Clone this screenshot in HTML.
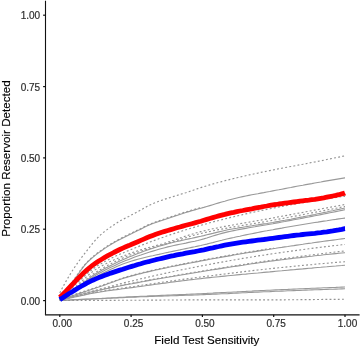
<!DOCTYPE html>
<html><head><meta charset="utf-8"><title>Field Test Sensitivity</title>
<style>
html,body{margin:0;padding:0;background:#fff}
svg{display:block}
.g{fill:none;stroke:#999;stroke-width:1.1}
.dt{stroke:#939393;stroke-width:1.15;stroke-dasharray:1.9 2.25}
.r{fill:none;stroke:#f00;stroke-width:4.8;stroke-linejoin:round}
.b{fill:none;stroke:#00f;stroke-width:4.8;stroke-linejoin:round}
.ax{fill:none;stroke:#111;stroke-width:1.25}
.ay{fill:none;stroke:#111;stroke-width:1.1}
.t{fill:none;stroke:#111;stroke-width:1.2}
text{font-family:"Liberation Sans",sans-serif}
.tl{font-size:10px;fill:#2e2e2e;stroke:#2e2e2e;stroke-width:0.2}
.ti{font-size:11.6px;fill:#000;stroke:#000;stroke-width:0.15}
</style></head><body>
<svg width="360" height="347" viewBox="0 0 360 347">
<rect width="360" height="347" fill="#fff"/>
<path d="M59.8 293.0 L62.8 287.1 L65.8 281.6 L68.8 276.5 L71.8 271.6 L74.8 267.0 L77.8 262.7 L80.8 258.6 L83.8 254.6 L86.8 250.8 L89.8 247.0 L92.8 243.2 L95.8 239.7 L98.8 236.5 L101.8 233.7 L104.8 231.3 L107.8 229.1 L110.8 226.9 L113.8 224.9 L116.8 222.9 L119.8 221.0 L122.8 219.4 L125.8 217.9 L128.8 216.4 L131.8 214.8 L134.8 213.2 L137.8 211.6 L140.8 210.0 L143.8 208.3 L146.8 206.6 L149.8 205.1 L152.8 203.7 L155.8 202.5 L158.8 201.3 L161.8 200.2 L164.8 199.2 L167.8 198.3 L170.8 197.3 L173.8 196.4 L176.8 195.5 L179.8 194.5 L182.8 193.6 L185.8 192.7 L188.8 191.7 L191.8 190.7 L194.8 189.7 L197.8 188.6 L200.8 187.6 L203.8 186.7 L206.8 185.8 L209.8 184.9 L212.8 184.0 L215.8 183.2 L218.8 182.4 L221.8 181.6 L224.8 180.8 L227.8 180.0 L230.8 179.3 L233.8 178.5 L236.8 177.8 L239.8 177.1 L242.8 176.4 L245.8 175.7 L248.8 175.0 L251.8 174.4 L254.8 173.7 L257.8 173.1 L260.8 172.4 L263.8 171.8 L266.8 171.2 L269.8 170.6 L272.8 170.0 L275.8 169.4 L278.8 168.8 L281.8 168.2 L284.8 167.6 L287.8 167.1 L290.8 166.5 L293.8 166.0 L296.8 165.4 L299.8 164.8 L302.8 164.3 L305.8 163.7 L308.8 163.1 L311.8 162.5 L314.8 162.0 L317.8 161.4 L320.8 160.8 L323.8 160.2 L326.8 159.5 L329.8 158.9 L332.8 158.3 L335.8 157.7 L338.8 157.1 L341.8 156.5 L344.8 155.8 L345.0 155.8" class="g dt"/>
<path d="M59.8 299.0 L62.8 295.3 L65.8 291.4 L68.8 287.4 L71.8 283.3 L74.8 279.0 L77.8 274.7 L80.8 270.3 L83.8 266.3 L86.8 262.9 L89.8 260.0 L92.8 257.3 L95.8 254.9 L98.8 252.6 L101.8 250.5 L104.8 248.4 L107.8 246.4 L110.8 244.5 L113.8 242.8 L116.8 241.1 L119.8 239.5 L122.8 237.9 L125.8 236.4 L128.8 234.9 L131.8 233.5 L134.8 232.0 L137.8 230.6 L140.8 229.2 L143.8 227.6 L146.8 226.1 L149.8 224.7 L152.8 223.5 L155.8 222.5 L158.8 221.5 L161.8 220.5 L164.8 219.5 L167.8 218.4 L170.8 217.4 L173.8 216.4 L176.8 215.4 L179.8 214.4 L182.8 213.4 L185.8 212.5 L188.8 211.6 L191.8 210.7 L194.8 209.9 L197.8 209.0 L200.8 208.2 L203.8 207.4 L206.8 206.5 L209.8 205.6 L212.8 204.7 L215.8 203.8 L218.8 202.9 L221.8 202.0 L224.8 201.2 L227.8 200.3 L230.8 199.5 L233.8 198.7 L236.8 198.0 L239.8 197.3 L242.8 196.6 L245.8 196.0 L248.8 195.4 L251.8 194.8 L254.8 194.2 L257.8 193.7 L260.8 193.1 L263.8 192.6 L266.8 192.0 L269.8 191.5 L272.8 190.9 L275.8 190.3 L278.8 189.8 L281.8 189.2 L284.8 188.6 L287.8 188.0 L290.8 187.5 L293.8 186.9 L296.8 186.3 L299.8 185.7 L302.8 185.2 L305.8 184.6 L308.8 184.1 L311.8 183.6 L314.8 183.0 L317.8 182.5 L320.8 182.0 L323.8 181.4 L326.8 180.9 L329.8 180.4 L332.8 179.9 L335.8 179.4 L338.8 178.9 L341.8 178.4 L344.8 177.9 L345.0 177.9" class="g"/>
<path d="M59.8 298.4 L62.8 294.7 L65.8 290.8 L68.8 286.8 L71.8 282.7 L74.8 278.4 L77.8 274.1 L80.8 269.7 L83.8 265.7 L86.8 262.3 L89.8 259.4 L92.8 256.7 L95.8 254.3 L98.8 252.0 L101.8 249.9 L104.8 247.8 L107.8 245.8 L110.8 243.9 L113.8 242.2 L116.8 240.5 L119.8 238.9 L122.8 237.3 L125.8 235.8 L128.8 234.3 L131.8 232.9 L134.8 231.4 L137.8 230.0 L140.8 228.6 L143.8 227.0 L146.8 225.5 L149.8 224.1 L152.8 222.9 L155.8 221.9 L158.8 220.9 L161.8 219.9 L164.8 218.9 L167.8 217.8 L170.8 216.8 L173.8 215.8 L176.8 214.8 L179.8 213.8 L182.8 212.8 L185.8 211.9 L188.8 211.0 L191.8 210.1 L194.8 209.2 L197.8 208.4 L200.8 207.6 L202.4 207.2" class="g dt"/>
<path d="M59.8 299.0 L62.8 296.1 L65.8 293.3 L68.8 290.5 L71.8 287.7 L74.8 285.0 L77.8 282.3 L80.8 279.6 L83.8 276.8 L86.8 274.0 L89.8 271.4 L92.8 269.0 L95.8 266.9 L98.8 265.0 L101.8 263.3 L104.8 261.6 L107.8 260.0 L110.8 258.5 L113.8 257.0 L116.8 255.6 L119.8 254.3 L122.8 253.0 L125.8 251.7 L128.8 250.5 L131.8 249.2 L134.8 248.0 L137.8 246.8 L140.8 245.6 L143.8 244.4 L146.8 243.2 L149.8 242.1 L152.8 241.0 L155.8 239.9 L158.8 238.8 L161.8 237.7 L164.8 236.7 L167.8 235.6 L170.8 234.6 L173.8 233.6 L176.8 232.6 L179.8 231.7 L182.8 230.7 L185.8 229.8 L188.8 228.9 L191.8 228.0 L194.8 227.1 L197.8 226.2 L200.8 225.3 L203.8 224.5 L206.8 223.7 L209.8 222.8 L212.8 222.0 L215.8 221.2 L218.8 220.5 L221.8 219.7 L224.8 218.9 L227.8 218.2 L230.8 217.4 L233.8 216.7 L236.8 216.0 L239.8 215.3 L242.8 214.6 L245.8 213.9 L248.8 213.2 L251.8 212.5 L254.8 211.9 L257.8 211.2 L260.8 210.6 L263.8 210.0 L266.8 209.4 L269.8 208.8 L272.8 208.2 L275.8 207.6 L278.8 207.0 L281.8 206.4 L284.8 205.9 L287.8 205.3 L290.8 204.8 L293.8 204.2 L296.8 203.7 L299.8 203.2 L302.8 202.7 L305.8 202.2 L308.8 201.6 L311.8 201.2 L314.8 200.7 L317.8 200.2 L320.8 199.7 L323.8 199.3 L326.8 198.8 L329.8 198.4 L332.8 197.9 L335.8 197.5 L338.8 197.1 L341.8 196.7 L344.8 196.3 L345.0 196.3" class="g dt"/>
<path d="M59.8 299.5 L62.8 297.1 L65.8 294.6 L68.8 292.2 L71.8 289.7 L74.8 287.2 L77.8 284.7 L80.8 282.1 L83.8 279.3 L86.8 276.5 L89.8 273.9 L92.8 271.5 L95.8 269.4 L98.8 267.6 L101.8 265.9 L104.8 264.3 L107.8 262.8 L110.8 261.3 L113.8 260.0 L116.8 258.7 L119.8 257.4 L122.8 256.2 L125.8 255.1 L128.8 253.9 L131.8 252.8 L134.8 251.8 L137.8 250.8 L140.8 249.9 L143.8 249.0 L146.8 248.2 L149.8 247.3 L152.8 246.5 L155.8 245.7 L158.8 244.8 L161.8 244.0 L164.8 243.1 L167.8 242.1 L170.8 241.2 L173.8 240.2 L176.8 239.1 L179.8 238.1 L182.8 237.1 L185.8 236.1 L188.8 235.1 L191.8 234.2 L194.8 233.3 L197.8 232.4 L200.8 231.6 L203.8 230.9 L206.8 230.2 L209.8 229.5 L212.8 228.8 L215.8 228.2 L218.8 227.6 L221.8 227.0 L224.8 226.4 L227.8 225.9 L230.8 225.3 L233.8 224.8 L236.8 224.2 L239.8 223.7 L242.8 223.2 L245.8 222.7 L248.8 222.2 L251.8 221.7 L254.8 221.1 L257.8 220.6 L260.8 220.1 L263.8 219.6 L266.8 219.1 L269.8 218.5 L272.8 218.0 L275.8 217.4 L278.8 216.8 L281.8 216.3 L284.8 215.7 L287.8 215.2 L290.8 214.6 L293.8 214.0 L296.8 213.5 L299.8 212.9 L302.8 212.4 L305.8 211.8 L308.8 211.2 L311.8 210.7 L314.8 210.1 L317.8 209.6 L320.8 209.0 L323.8 208.4 L326.8 207.9 L329.8 207.3 L332.8 206.8 L335.8 206.2 L338.8 205.7 L341.8 205.1 L344.8 204.5 L345.0 204.5" class="g dt"/>
<path d="M59.8 299.5 L62.8 297.3 L65.8 295.1 L68.8 292.8 L71.8 290.6 L74.8 288.4 L77.8 286.1 L80.8 283.7 L83.8 281.3 L86.8 278.9 L89.8 276.5 L92.8 274.3 L95.8 272.3 L98.8 270.5 L101.8 268.7 L104.8 267.0 L107.8 265.3 L110.8 263.8 L113.8 262.2 L116.8 260.8 L119.8 259.3 L122.8 258.0 L125.8 256.7 L128.8 255.5 L131.8 254.3 L134.8 253.2 L137.8 252.2 L140.8 251.2 L143.8 250.3 L146.8 249.4 L149.8 248.6 L152.8 247.7 L155.8 246.9 L158.8 246.0 L161.8 245.1 L164.8 244.3 L167.8 243.3 L170.8 242.4 L173.8 241.5 L176.8 240.5 L179.8 239.6 L182.8 238.6 L185.8 237.7 L188.8 236.8 L191.8 235.9 L194.8 235.0 L197.8 234.2 L200.8 233.5 L203.8 232.8 L206.8 232.1 L209.8 231.5 L212.8 230.8 L215.8 230.2 L218.8 229.6 L221.8 229.1 L224.8 228.5 L227.8 228.0 L230.8 227.4 L233.8 226.9 L236.8 226.4 L239.8 225.9 L242.8 225.4 L245.8 224.9 L248.8 224.4 L251.8 223.9 L254.8 223.4 L257.8 222.9 L260.8 222.4 L263.8 221.9 L266.8 221.3 L269.8 220.8 L272.8 220.3 L275.8 219.7 L278.8 219.1 L281.8 218.6 L284.8 218.0 L287.8 217.5 L290.8 216.9 L293.8 216.3 L296.8 215.8 L299.8 215.2 L302.8 214.6 L305.8 214.0 L308.8 213.5 L311.8 212.9 L314.8 212.3 L317.8 211.8 L320.8 211.2 L323.8 210.6 L326.8 210.0 L329.8 209.4 L332.8 208.9 L335.8 208.3 L338.8 207.7 L341.8 207.1 L344.8 206.5 L345.0 206.5" class="g dt"/>
<path d="M59.8 299.8 L62.8 297.8 L65.8 295.8 L68.8 293.7 L71.8 291.6 L74.8 289.5 L77.8 287.4 L80.8 285.1 L83.8 282.7 L86.8 280.3 L89.8 278.0 L92.8 275.8 L95.8 273.8 L98.8 272.0 L101.8 270.3 L104.8 268.6 L107.8 267.0 L110.8 265.4 L113.8 263.9 L116.8 262.5 L119.8 261.1 L122.8 259.7 L125.8 258.4 L128.8 257.1 L131.8 255.9 L134.8 254.7 L137.8 253.5 L140.8 252.4 L143.8 251.3 L146.8 250.2 L149.8 249.2 L152.8 248.2 L155.8 247.2 L158.8 246.3 L161.8 245.4 L164.8 244.6 L167.8 243.7 L170.8 243.0 L173.8 242.2 L176.8 241.5 L179.8 240.9 L182.8 240.2 L185.8 239.5 L188.8 238.9 L191.8 238.3 L194.8 237.6 L197.8 236.9 L200.8 236.3 L203.8 235.6 L206.8 234.8 L209.8 234.1 L212.8 233.4 L215.8 232.6 L218.8 231.9 L221.8 231.2 L224.8 230.5 L227.8 229.8 L230.8 229.2 L233.8 228.7 L236.8 228.2 L239.8 227.6 L242.8 227.2 L245.8 226.7 L248.8 226.2 L251.8 225.8 L254.8 225.3 L257.8 224.9 L260.8 224.4 L263.8 223.9 L266.8 223.5 L269.8 223.0 L272.8 222.5 L275.8 221.9 L278.8 221.4 L281.8 220.8 L284.8 220.3 L287.8 219.7 L290.8 219.2 L293.8 218.6 L296.8 218.0 L299.8 217.4 L302.8 216.9 L305.8 216.3 L308.8 215.7 L311.8 215.1 L314.8 214.5 L317.8 213.8 L320.8 213.2 L323.8 212.6 L326.8 212.0 L329.8 211.3 L332.8 210.7 L335.8 210.0 L338.8 209.4 L341.8 208.7 L344.8 208.0 L345.0 208.0" class="g"/>
<path d="M59.8 299.8 L62.8 297.9 L65.8 296.1 L68.8 294.1 L71.8 292.2 L74.8 290.2 L77.8 288.2 L80.8 286.0 L83.8 283.8 L86.8 281.5 L89.8 279.3 L92.8 277.2 L95.8 275.3 L98.8 273.6 L101.8 271.9 L104.8 270.3 L107.8 268.8 L110.8 267.3 L113.8 265.9 L116.8 264.5 L119.8 263.1 L122.8 261.8 L125.8 260.6 L128.8 259.4 L131.8 258.2 L134.8 257.1 L137.8 256.0 L140.8 255.0 L143.8 253.9 L146.8 252.9 L149.8 252.0 L152.8 251.1 L155.8 250.2 L158.8 249.3 L161.8 248.5 L164.8 247.7 L167.8 246.9 L170.8 246.2 L173.8 245.5 L176.8 244.9 L179.8 244.3 L182.8 243.7 L185.8 243.1 L188.8 242.4 L191.8 241.8 L194.8 241.2 L197.8 240.5 L200.8 239.7 L203.8 238.9 L206.8 238.0 L209.8 237.0 L212.8 236.0 L215.8 235.1 L218.8 234.2 L221.8 233.4 L224.8 232.6 L227.8 231.9 L230.8 231.2 L233.8 230.6 L236.8 230.0 L239.8 229.4 L242.8 228.9 L245.8 228.4 L248.8 227.8 L251.8 227.3 L254.8 226.8 L257.8 226.2 L260.8 225.7 L263.8 225.2 L266.8 224.7 L269.8 224.2 L272.8 223.7 L275.8 223.1 L278.8 222.6 L281.8 222.0 L284.8 221.5 L287.8 220.9 L290.8 220.4 L293.8 219.8 L296.8 219.2 L299.8 218.7 L302.8 218.1 L305.8 217.5 L308.8 217.0 L311.8 216.4 L314.8 215.8 L317.8 215.2 L320.8 214.6 L323.8 214.0 L326.8 213.4 L329.8 212.8 L332.8 212.2 L335.8 211.6 L338.8 211.0 L341.8 210.4 L344.8 209.7 L345.0 209.7" class="g"/>
<path d="M59.8 299.8 L62.8 298.1 L65.8 296.4 L68.8 294.6 L71.8 292.8 L74.8 291.0 L77.8 289.1 L80.8 287.1 L83.8 285.0 L86.8 282.8 L89.8 280.8 L92.8 278.8 L95.8 277.0 L98.8 275.4 L101.8 273.8 L104.8 272.3 L107.8 270.8 L110.8 269.3 L113.8 267.9 L116.8 266.6 L119.8 265.3 L122.8 264.1 L125.8 263.0 L128.8 261.9 L131.8 261.0 L134.8 260.1 L137.8 259.3 L140.8 258.5 L143.8 257.7 L146.8 257.0 L149.8 256.3 L152.8 255.7 L155.8 255.0 L158.8 254.4 L161.8 253.7 L164.8 253.0 L167.8 252.4 L170.8 251.7 L173.8 251.1 L176.8 250.5 L179.8 249.9 L182.8 249.2 L185.8 248.6 L188.8 248.0 L191.8 247.4 L194.8 246.8 L197.8 246.1 L200.8 245.5 L203.8 244.8 L206.8 244.1 L209.8 243.3 L212.8 242.6 L215.8 241.8 L218.8 241.0 L221.8 240.3 L224.8 239.5 L227.8 238.8 L230.8 238.1 L233.8 237.5 L236.8 236.8 L239.8 236.2 L242.8 235.5 L245.8 234.9 L248.8 234.3 L251.8 233.7 L254.8 233.1 L257.8 232.5 L260.8 231.9 L263.8 231.3 L266.8 230.8 L269.8 230.2 L272.8 229.7 L275.8 229.1 L278.8 228.6 L281.8 228.1 L284.8 227.5 L287.8 227.0 L290.8 226.5 L293.8 226.0 L296.8 225.5 L299.8 225.0 L302.8 224.5 L305.8 224.0 L308.8 223.5 L311.8 223.0 L314.8 222.5 L317.8 222.1 L320.8 221.6 L323.8 221.1 L326.8 220.7 L329.8 220.2 L332.8 219.8 L335.8 219.4 L338.8 218.9 L341.8 218.5 L344.8 218.1 L345.0 218.1" class="g"/>
<path d="M59.8 300.0 L62.8 299.0 L65.8 297.9 L68.8 296.9 L71.8 295.9 L74.8 294.9 L77.8 293.9 L80.8 292.9 L83.8 291.9 L86.8 291.0 L89.8 290.0 L92.8 289.0 L95.8 288.0 L98.8 287.0 L101.8 286.0 L104.8 284.9 L107.8 283.8 L110.8 282.7 L113.8 281.7 L116.8 280.6 L119.8 279.6 L122.8 278.6 L125.8 277.6 L128.8 276.7 L131.8 275.9 L134.8 275.1 L137.8 274.3 L140.8 273.6 L143.8 272.8 L146.8 272.1 L149.8 271.4 L152.8 270.7 L155.8 270.0 L158.8 269.4 L161.8 268.7 L164.8 268.1 L167.8 267.5 L170.8 266.8 L173.8 266.2 L176.8 265.6 L179.8 265.0 L182.8 264.4 L185.8 263.9 L188.8 263.3 L191.8 262.7 L194.8 262.1 L197.8 261.6 L200.8 261.0 L203.8 260.4 L206.8 259.9 L209.8 259.3 L212.8 258.7 L215.8 258.2 L218.8 257.7 L221.8 257.1 L224.8 256.6 L227.8 256.1 L230.8 255.6 L233.8 255.0 L236.8 254.5 L239.8 254.0 L242.8 253.5 L245.8 253.0 L248.8 252.5 L251.8 252.1 L254.8 251.6 L257.8 251.1 L260.8 250.6 L263.8 250.1 L266.8 249.7 L269.8 249.2 L272.8 248.7 L275.8 248.3 L278.8 247.8 L281.8 247.4 L284.8 246.9 L287.8 246.5 L290.8 246.0 L293.8 245.6 L296.8 245.1 L299.8 244.7 L302.8 244.3 L305.8 243.8 L308.8 243.4 L311.8 243.0 L314.8 242.5 L317.8 242.1 L320.8 241.7 L323.8 241.3 L326.8 240.9 L329.8 240.5 L332.8 240.1 L335.8 239.7 L338.8 239.3 L341.8 238.9 L344.8 238.5 L345.0 238.5" class="g"/>
<path d="M59.8 299.5 L62.8 298.5 L65.8 297.4 L68.8 296.4 L71.8 295.4 L74.8 294.4 L77.8 293.4 L80.8 292.4 L83.8 291.4 L86.8 290.5 L89.8 289.5 L92.8 288.5 L95.8 287.5 L98.8 286.5 L101.8 285.5 L104.8 284.4 L107.8 283.3 L110.8 282.2 L113.8 281.2 L116.8 280.1 L119.8 279.1 L122.8 278.1 L125.8 277.1 L128.8 276.2 L131.8 275.4 L134.8 274.6 L137.8 273.8 L140.8 273.1 L143.8 272.3 L146.8 271.6 L149.8 270.9 L152.8 270.2 L155.8 269.5 L158.8 268.9 L161.8 268.2 L164.8 267.6 L167.8 267.0 L170.8 266.3 L173.8 265.7 L176.8 265.1 L179.8 264.5 L182.8 263.9 L185.8 263.4 L188.8 262.8 L191.8 262.2 L194.8 261.6 L197.8 261.1 L200.8 260.5 L203.8 259.9 L206.8 259.3 L209.8 258.8 L212.8 258.2 L215.8 257.7 L218.8 257.1 L221.8 256.6 L224.8 256.1 L227.8 255.5 L230.8 255.0 L233.8 254.5 L236.8 254.0 L239.8 253.5 L242.8 252.9 L245.8 252.4 L248.8 252.0 L251.8 251.5 L254.8 251.0 L257.8 250.5 L260.8 250.0 L263.8 249.6 L266.8 249.1 L269.8 248.7 L272.8 248.2 L273.7 248.1" class="g dt"/>
<path d="M59.8 300.0 L62.8 299.1 L65.8 298.2 L68.8 297.3 L71.8 296.5 L74.8 295.7 L77.8 294.8 L80.8 294.0 L83.8 293.3 L86.8 292.5 L89.8 291.7 L92.8 291.0 L95.8 290.2 L98.8 289.4 L101.8 288.6 L104.8 287.9 L107.8 287.1 L110.8 286.3 L113.8 285.5 L116.8 284.7 L119.8 283.9 L122.8 283.2 L125.8 282.4 L128.8 281.7 L131.8 281.0 L134.8 280.3 L137.8 279.6 L140.8 278.8 L143.8 278.2 L146.8 277.5 L149.8 276.8 L152.8 276.1 L155.8 275.4 L158.8 274.7 L161.8 274.1 L164.8 273.4 L167.8 272.8 L170.8 272.1 L173.8 271.5 L176.8 270.8 L179.8 270.2 L182.8 269.6 L185.8 269.0 L188.8 268.4 L191.8 267.8 L194.8 267.2 L197.8 266.6 L200.8 266.0 L203.8 265.4 L206.8 264.9 L209.8 264.3 L212.8 263.7 L215.8 263.2 L218.8 262.6 L221.8 262.1 L224.8 261.6 L227.8 261.0 L230.8 260.5 L233.8 260.0 L236.8 259.5 L239.8 259.0 L242.8 258.4 L245.8 258.0 L248.8 257.5 L251.8 257.0 L254.8 256.5 L257.8 256.0 L260.8 255.5 L263.8 255.1 L266.8 254.6 L269.8 254.2 L272.8 253.7 L275.8 253.3 L278.8 252.9 L281.8 252.4 L284.8 252.0 L287.8 251.6 L290.8 251.2 L293.8 250.8 L296.8 250.4 L299.8 250.0 L302.8 249.6 L305.8 249.2 L308.8 248.8 L311.8 248.4 L314.8 248.0 L317.8 247.6 L320.8 247.3 L323.8 246.9 L326.8 246.5 L329.8 246.2 L332.8 245.8 L335.8 245.5 L338.8 245.2 L341.8 244.8 L344.8 244.5 L345.0 244.5" class="g dt"/>
<path d="M59.8 300.0 L62.8 299.2 L65.8 298.4 L68.8 297.6 L71.8 296.8 L74.8 296.0 L77.8 295.2 L80.8 294.5 L83.8 293.7 L86.8 292.9 L89.8 292.2 L92.8 291.4 L95.8 290.7 L98.8 290.0 L101.8 289.4 L104.8 288.7 L107.8 288.1 L110.8 287.4 L113.8 286.8 L116.8 286.2 L119.8 285.6 L122.8 285.0 L125.8 284.4 L128.8 283.8 L131.8 283.3 L134.8 282.7 L137.8 282.1 L140.8 281.6 L143.8 281.0 L146.8 280.5 L149.8 279.9 L152.8 279.4 L155.8 278.9 L158.8 278.3 L161.8 277.8 L164.8 277.3 L167.8 276.8 L170.8 276.3 L173.8 275.7 L176.8 275.2 L179.8 274.7 L182.8 274.2 L185.8 273.7 L188.8 273.2 L191.8 272.7 L194.8 272.2 L197.8 271.8 L200.8 271.3 L203.8 270.8 L206.8 270.3 L209.8 269.8 L212.8 269.3 L215.8 268.8 L218.8 268.3 L221.8 267.9 L224.8 267.4 L227.8 266.9 L230.8 266.4 L233.8 266.0 L236.8 265.5 L239.8 265.0 L242.8 264.6 L245.8 264.1 L248.8 263.6 L251.8 263.2 L254.8 262.7 L257.8 262.3 L260.8 261.8 L263.8 261.4 L266.8 261.0 L269.8 260.5 L272.8 260.1 L275.8 259.7 L278.8 259.3 L281.8 258.9 L284.8 258.5 L287.8 258.1 L290.8 257.7 L293.8 257.3 L296.8 256.9 L299.8 256.5 L302.8 256.1 L305.8 255.7 L308.8 255.3 L311.8 254.9 L314.8 254.5 L317.8 254.2 L320.8 253.8 L323.8 253.4 L326.8 253.0 L329.8 252.7 L332.8 252.3 L335.8 252.0 L338.8 251.6 L341.8 251.3 L344.8 250.9 L345.0 250.9" class="g dt"/>
<path d="M59.8 300.0 L62.8 299.2 L65.8 298.4 L68.8 297.6 L71.8 296.9 L74.8 296.1 L77.8 295.3 L80.8 294.6 L83.8 293.8 L86.8 293.1 L89.8 292.3 L92.8 291.6 L95.8 290.9 L98.8 290.3 L101.8 289.6 L104.8 289.0 L107.8 288.4 L110.8 287.7 L113.8 287.1 L116.8 286.5 L119.8 286.0 L122.8 285.4 L125.8 284.8 L128.8 284.2 L131.8 283.7 L134.8 283.1 L137.8 282.6 L140.8 282.0 L143.8 281.5 L146.8 280.9 L149.8 280.4 L152.8 279.8 L155.8 279.3 L158.8 278.8 L161.8 278.3 L164.8 277.7 L167.8 277.2 L170.8 276.7 L173.8 276.2 L176.8 275.7 L179.8 275.2 L182.8 274.7 L185.8 274.2 L188.8 273.7 L191.8 273.2 L194.8 272.7 L197.8 272.2 L200.8 271.8 L203.8 271.3 L206.8 270.8 L209.8 270.3 L212.8 269.8 L215.8 269.4 L218.8 268.9 L221.8 268.4 L224.8 267.9 L227.8 267.5 L230.8 267.0 L233.8 266.5 L236.8 266.1 L239.8 265.6 L242.8 265.2 L245.8 264.7 L248.8 264.3 L251.8 263.8 L254.8 263.4 L257.8 263.0 L260.8 262.5 L263.8 262.1 L266.8 261.7 L269.8 261.3 L272.8 260.9 L275.8 260.5 L278.8 260.1 L281.8 259.8 L284.8 259.4 L287.8 259.0 L290.8 258.6 L293.8 258.3 L296.8 257.9 L299.8 257.6 L302.8 257.2 L305.8 256.9 L308.8 256.5 L311.8 256.2 L314.8 255.8 L317.8 255.5 L320.8 255.2 L323.8 254.8 L326.8 254.5 L329.8 254.2 L332.8 253.9 L335.8 253.6 L338.8 253.3 L341.8 253.0 L344.8 252.7 L345.0 252.7" class="g"/>
<path d="M59.8 300.2 L62.8 299.5 L65.8 298.8 L68.8 298.2 L71.8 297.5 L74.8 296.8 L77.8 296.2 L80.8 295.5 L83.8 294.8 L86.8 294.1 L89.8 293.4 L92.8 292.8 L95.8 292.2 L98.8 291.7 L101.8 291.2 L104.8 290.7 L107.8 290.2 L110.8 289.8 L113.8 289.3 L116.8 288.9 L119.8 288.4 L122.8 288.0 L125.8 287.6 L128.8 287.1 L131.8 286.7 L134.8 286.3 L137.8 285.8 L140.8 285.4 L143.8 284.9 L146.8 284.5 L149.8 284.1 L152.8 283.6 L155.8 283.2 L158.8 282.8 L161.8 282.3 L164.8 281.9 L167.8 281.5 L170.8 281.1 L173.8 280.6 L176.8 280.2 L179.8 279.8 L182.8 279.4 L185.8 279.0 L188.8 278.6 L191.8 278.2 L194.8 277.8 L197.8 277.4 L200.8 277.0 L203.8 276.6 L206.8 276.2 L209.8 275.9 L212.8 275.5 L215.8 275.1 L218.8 274.7 L221.8 274.3 L224.8 274.0 L227.8 273.6 L230.8 273.2 L233.8 272.8 L236.8 272.5 L239.8 272.1 L242.8 271.8 L245.8 271.4 L248.8 271.1 L251.8 270.7 L254.8 270.4 L257.8 270.0 L260.8 269.7 L263.8 269.4 L266.8 269.0 L269.8 268.7 L272.8 268.4 L275.8 268.1 L278.8 267.8 L281.8 267.5 L284.8 267.2 L287.8 266.9 L290.8 266.6 L293.8 266.3 L296.8 266.0 L299.8 265.7 L302.8 265.4 L305.8 265.1 L308.8 264.8 L311.8 264.6 L314.8 264.3 L317.8 264.0 L320.8 263.7 L323.8 263.5 L326.8 263.2 L329.8 263.0 L332.8 262.7 L335.8 262.4 L338.8 262.2 L341.8 262.0 L344.8 261.7 L345.0 261.7" class="g dt"/>
<path d="M59.8 300.2 L62.8 299.6 L65.8 298.9 L68.8 298.3 L71.8 297.6 L74.8 297.0 L77.8 296.4 L80.8 295.7 L83.8 295.1 L86.8 294.4 L89.8 293.8 L92.8 293.2 L95.8 292.6 L98.8 292.2 L101.8 291.7 L104.8 291.2 L107.8 290.8 L110.8 290.4 L113.8 290.0 L116.8 289.6 L119.8 289.2 L122.8 288.8 L125.8 288.4 L128.8 288.0 L131.8 287.6 L134.8 287.2 L137.8 286.8 L140.8 286.4 L143.8 286.0 L146.8 285.5 L149.8 285.1 L152.8 284.7 L155.8 284.3 L158.8 283.9 L161.8 283.5 L164.8 283.1 L167.8 282.7 L170.8 282.3 L173.8 281.9 L176.8 281.5 L179.8 281.1 L182.8 280.7 L185.8 280.4 L188.8 280.0 L191.8 279.6 L194.8 279.3 L197.8 278.9 L200.8 278.6 L203.8 278.2 L206.8 277.9 L209.8 277.6 L212.8 277.3 L215.8 277.0 L218.8 276.7 L221.8 276.4 L224.8 276.1 L227.8 275.8 L230.8 275.5 L233.8 275.2 L236.8 274.9 L239.8 274.6 L242.8 274.3 L245.8 274.1 L248.8 273.8 L251.8 273.5 L254.8 273.2 L257.8 273.0 L260.8 272.7 L263.8 272.4 L266.8 272.1 L269.8 271.9 L272.8 271.6 L275.8 271.3 L278.8 271.0 L281.8 270.8 L284.8 270.5 L287.8 270.2 L290.8 269.9 L293.8 269.7 L296.8 269.4 L299.8 269.1 L302.8 268.9 L305.8 268.6 L308.8 268.3 L311.8 268.1 L314.8 267.8 L317.8 267.5 L320.8 267.3 L323.8 267.0 L326.8 266.8 L329.8 266.5 L332.8 266.2 L335.8 266.0 L338.8 265.7 L341.8 265.5 L344.8 265.2 L345.0 265.2" class="g"/>
<path d="M59.8 300.4 L62.8 300.3 L65.8 300.1 L68.8 300.0 L71.8 299.9 L74.8 299.7 L77.8 299.6 L80.8 299.4 L83.8 299.3 L86.8 299.1 L89.8 299.0 L92.8 298.8 L95.8 298.7 L98.8 298.5 L101.8 298.4 L104.8 298.2 L107.8 298.0 L110.8 297.9 L113.8 297.7 L116.8 297.6 L119.8 297.4 L122.8 297.2 L125.8 297.1 L128.8 296.9 L131.8 296.8 L134.8 296.6 L137.8 296.5 L140.8 296.3 L143.8 296.2 L146.8 296.1 L149.8 295.9 L152.8 295.8 L155.8 295.7 L158.8 295.5 L161.8 295.4 L164.8 295.3 L167.8 295.1 L170.8 295.0 L173.8 294.9 L176.8 294.8 L179.8 294.6 L182.8 294.5 L185.8 294.4 L188.8 294.2 L191.8 294.1 L194.8 294.0 L197.8 293.8 L200.8 293.7 L203.8 293.5 L206.8 293.4 L209.8 293.2 L212.8 293.1 L215.8 292.9 L218.8 292.8 L221.8 292.6 L224.8 292.5 L227.8 292.3 L230.8 292.2 L233.8 292.0 L236.8 291.9 L239.8 291.7 L242.8 291.5 L245.8 291.4 L248.8 291.2 L251.8 291.1 L254.8 290.9 L257.8 290.8 L260.8 290.6 L263.8 290.5 L266.8 290.3 L269.8 290.2 L272.8 290.0 L275.8 289.9 L278.8 289.8 L281.8 289.6 L284.8 289.5 L287.8 289.4 L290.8 289.2 L293.8 289.1 L296.8 289.0 L299.8 288.8 L302.8 288.7 L305.8 288.6 L308.8 288.5 L311.8 288.3 L314.8 288.2 L317.8 288.1 L320.8 288.0 L323.8 287.8 L326.8 287.7 L329.8 287.6 L332.8 287.5 L335.8 287.4 L338.8 287.2 L341.8 287.1 L344.8 287.0 L345.0 287.0" class="g"/>
<path d="M59.8 300.4 L62.8 300.3 L65.8 300.2 L68.8 300.0 L71.8 299.9 L74.8 299.8 L77.8 299.7 L80.8 299.5 L83.8 299.4 L86.8 299.3 L89.8 299.2 L92.8 299.0 L95.8 298.9 L98.8 298.7 L101.8 298.6 L104.8 298.5 L107.8 298.3 L110.8 298.2 L113.8 298.0 L116.8 297.9 L119.8 297.7 L122.8 297.6 L125.8 297.4 L128.8 297.3 L131.8 297.2 L134.8 297.1 L137.8 296.9 L140.8 296.8 L143.8 296.7 L146.8 296.6 L149.8 296.5 L152.8 296.4 L155.8 296.3 L158.8 296.2 L161.8 296.1 L164.8 296.0 L167.8 295.9 L170.8 295.8 L173.8 295.7 L176.8 295.6 L179.8 295.5 L182.8 295.4 L185.8 295.3 L188.8 295.2 L191.8 295.1 L194.8 295.0 L197.8 294.9 L200.8 294.8 L203.8 294.6 L206.8 294.5 L209.8 294.4 L212.8 294.3 L215.8 294.1 L218.8 294.0 L221.8 293.8 L224.8 293.7 L227.8 293.6 L230.8 293.4 L233.8 293.3 L236.8 293.1 L239.8 293.0 L242.8 292.8 L245.8 292.7 L248.8 292.5 L251.8 292.4 L254.8 292.2 L257.8 292.1 L260.8 292.0 L263.8 291.8 L266.8 291.7 L269.8 291.6 L272.8 291.4 L275.8 291.3 L278.8 291.2 L281.8 291.1 L284.8 291.0 L287.8 290.8 L290.8 290.7 L293.8 290.6 L296.8 290.5 L299.8 290.4 L302.8 290.3 L305.8 290.1 L308.8 290.0 L311.8 289.9 L314.8 289.8 L317.8 289.7 L320.8 289.6 L323.8 289.5 L326.8 289.4 L329.8 289.3 L332.8 289.2 L335.8 289.1 L338.8 289.0 L341.8 288.9 L344.8 288.8 L345.0 288.8" class="g"/>
<path d="M59.8 300.5 L62.8 300.5 L65.8 300.5 L68.8 300.5 L71.8 300.4 L74.8 300.4 L77.8 300.4 L80.8 300.4 L83.8 300.4 L86.8 300.4 L89.8 300.4 L92.8 300.4 L95.8 300.3 L98.8 300.3 L101.8 300.3 L104.8 300.3 L107.8 300.3 L110.8 300.3 L113.8 300.3 L116.8 300.3 L119.8 300.2 L122.8 300.2 L125.8 300.2 L128.8 300.2 L131.8 300.2 L134.8 300.2 L137.8 300.2 L140.8 300.2 L143.8 300.1 L146.8 300.1 L149.8 300.1 L152.8 300.1 L155.8 300.1 L158.8 300.1 L161.8 300.1 L164.8 300.0 L167.8 300.0 L170.8 300.0 L173.8 300.0 L176.8 300.0 L179.8 300.0 L182.8 300.0 L185.8 299.9 L188.8 299.9 L191.8 299.9 L194.8 299.9 L197.8 299.9 L200.8 299.9 L203.8 299.9 L206.8 299.9 L209.8 299.9 L212.8 299.9 L215.8 299.9 L218.8 299.9 L221.8 299.9 L224.8 299.9 L227.8 299.9 L230.8 299.9 L233.8 299.9 L236.8 299.9 L239.8 299.9 L242.8 299.8 L245.8 299.8 L248.8 299.8 L251.8 299.8 L254.8 299.8 L257.8 299.8 L260.8 299.8 L263.8 299.8 L266.8 299.8 L269.8 299.8 L272.8 299.8 L275.8 299.8 L278.8 299.8 L281.8 299.8 L284.8 299.8 L287.8 299.7 L290.8 299.7 L293.8 299.7 L296.8 299.7 L299.8 299.7 L302.8 299.6 L305.8 299.6 L308.8 299.6 L311.8 299.6 L314.8 299.5 L317.8 299.5 L320.8 299.5 L323.8 299.4 L326.8 299.4 L329.8 299.4 L332.8 299.3 L335.8 299.3 L338.8 299.3 L341.8 299.2 L344.8 299.2 L345.0 299.2" class="g dt"/>
<path d="M59.8 297.5 L62.8 294.4 L65.8 291.3 L68.8 288.1 L71.8 285.0 L74.8 281.9 L77.8 278.7 L80.8 275.7 L83.8 272.8 L86.8 270.1 L89.8 267.5 L92.8 265.1 L95.8 263.0 L98.8 261.0 L101.8 259.2 L104.8 257.4 L107.8 255.7 L110.8 254.1 L113.8 252.5 L116.8 251.0 L119.8 249.5 L122.8 248.1 L125.8 246.8 L128.8 245.6 L131.8 244.3 L134.8 243.0 L137.8 241.7 L140.8 240.4 L143.8 239.1 L146.8 237.8 L149.8 236.6 L152.8 235.4 L155.8 234.3 L158.8 233.3 L161.8 232.3 L164.8 231.4 L167.8 230.5 L170.8 229.6 L173.8 228.7 L176.8 227.8 L179.8 227.0 L182.8 226.1 L185.8 225.3 L188.8 224.5 L191.8 223.7 L194.8 222.9 L197.8 222.0 L200.8 221.2 L203.8 220.3 L206.8 219.4 L209.8 218.5 L212.8 217.6 L215.8 216.7 L218.8 215.9 L221.8 215.1 L224.8 214.4 L227.8 213.6 L230.8 212.9 L233.8 212.3 L236.8 211.6 L239.8 211.0 L242.8 210.5 L245.8 209.9 L248.8 209.3 L251.8 208.8 L254.8 208.2 L257.8 207.6 L260.8 207.1 L263.8 206.5 L266.8 206.0 L269.8 205.4 L272.8 204.9 L275.8 204.5 L278.8 204.0 L281.8 203.6 L284.8 203.2 L287.8 202.8 L290.8 202.4 L293.8 202.0 L296.8 201.6 L299.8 201.2 L302.8 200.8 L305.8 200.4 L308.8 200.1 L311.8 199.7 L314.8 199.3 L317.8 198.8 L320.8 198.3 L323.8 197.8 L326.8 197.2 L329.8 196.6 L332.8 196.0 L335.8 195.4 L338.8 194.7 L341.8 193.9 L344.8 193.1 L345.0 193.0" class="r"/>
<path d="M59.8 299.6 L62.8 297.7 L65.8 295.7 L68.8 293.8 L71.8 292.0 L74.8 290.1 L77.8 288.3 L80.8 286.5 L83.8 284.9 L86.8 283.2 L89.8 281.7 L92.8 280.2 L95.8 278.9 L98.8 277.6 L101.8 276.4 L104.8 275.3 L107.8 274.2 L110.8 273.1 L113.8 272.1 L116.8 271.1 L119.8 270.1 L122.8 269.2 L125.8 268.2 L128.8 267.3 L131.8 266.4 L134.8 265.5 L137.8 264.5 L140.8 263.7 L143.8 262.8 L146.8 262.0 L149.8 261.3 L152.8 260.5 L155.8 259.7 L158.8 259.0 L161.8 258.3 L164.8 257.6 L167.8 256.9 L170.8 256.2 L173.8 255.6 L176.8 254.9 L179.8 254.3 L182.8 253.8 L185.8 253.2 L188.8 252.6 L191.8 252.1 L194.8 251.6 L197.8 251.0 L200.8 250.4 L203.8 249.8 L206.8 249.1 L209.8 248.4 L212.8 247.8 L215.8 247.1 L218.8 246.5 L221.8 245.8 L224.8 245.2 L227.8 244.6 L230.8 244.1 L233.8 243.6 L236.8 243.1 L239.8 242.6 L242.8 242.2 L245.8 241.8 L248.8 241.4 L251.8 241.0 L254.8 240.6 L257.8 240.2 L260.8 239.8 L263.8 239.5 L266.8 239.1 L269.8 238.7 L272.8 238.3 L275.8 237.9 L278.8 237.5 L281.8 237.1 L284.8 236.7 L287.8 236.3 L290.8 235.9 L293.8 235.5 L296.8 235.2 L299.8 234.9 L302.8 234.5 L305.8 234.2 L308.8 233.9 L311.8 233.6 L314.8 233.3 L317.8 232.9 L320.8 232.6 L323.8 232.2 L326.8 231.8 L329.8 231.3 L332.8 230.9 L335.8 230.4 L338.8 229.9 L341.8 229.3 L344.8 228.6 L345.0 228.6" class="b"/>
<path d="M45.5 0.8V314.75" class="ay"/><path d="M44.95 314.75H359.6" class="ax"/>
<path d="M43.1 300.6H45.5" class="t"/>
<path d="M59.8 314.8V316.9" class="t"/>
<text x="40.1" y="304.5" text-anchor="end" class="tl">0.00</text>
<text x="62.3" y="327.3" text-anchor="middle" class="tl">0.00</text>
<path d="M43.1 229.2H45.5" class="t"/>
<path d="M131.1 314.8V316.9" class="t"/>
<text x="40.1" y="233.2" text-anchor="end" class="tl">0.25</text>
<text x="133.6" y="327.3" text-anchor="middle" class="tl">0.25</text>
<path d="M43.1 157.9H45.5" class="t"/>
<path d="M202.4 314.8V316.9" class="t"/>
<text x="40.1" y="161.8" text-anchor="end" class="tl">0.50</text>
<text x="204.9" y="327.3" text-anchor="middle" class="tl">0.50</text>
<path d="M43.1 86.6H45.5" class="t"/>
<path d="M273.7 314.8V316.9" class="t"/>
<text x="40.1" y="90.5" text-anchor="end" class="tl">0.75</text>
<text x="276.2" y="327.3" text-anchor="middle" class="tl">0.75</text>
<path d="M43.1 15.2H45.5" class="t"/>
<path d="M345.0 314.8V316.9" class="t"/>
<text x="40.1" y="19.1" text-anchor="end" class="tl">1.00</text>
<text x="347.5" y="327.3" text-anchor="middle" class="tl">1.00</text>
<text x="154.2" y="343.6" textLength="105.2" lengthAdjust="spacing" class="ti">Field Test Sensitivity</text>
<text transform="translate(10.2 236.8) rotate(-90)" textLength="156.6" lengthAdjust="spacing" class="ti">Proportion Reservoir Detected</text>
</svg>
</body></html>
